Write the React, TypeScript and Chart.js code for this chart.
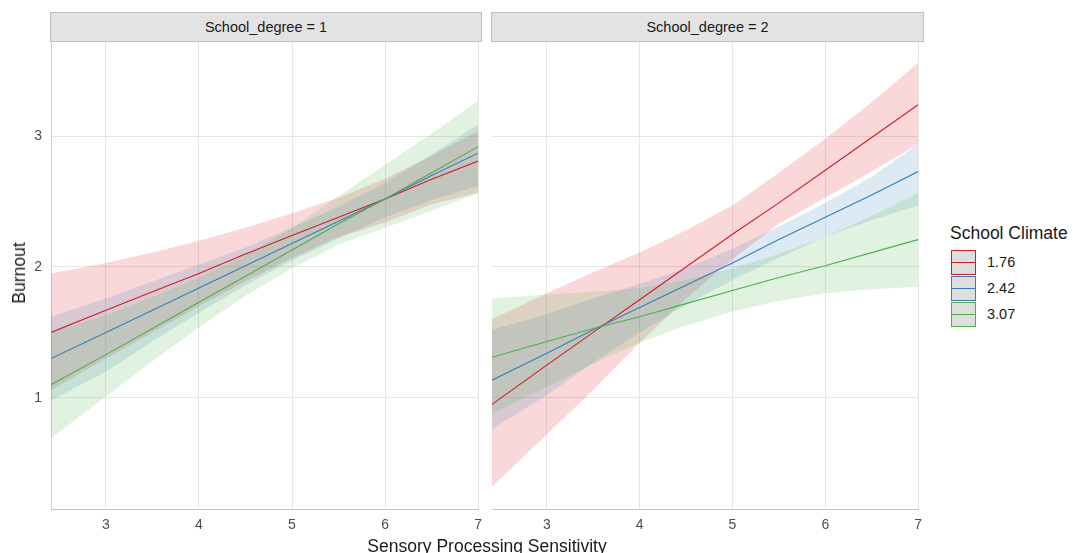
import React, { useEffect, useRef } from "react";
import { Chart, registerables } from "chart.js";

Chart.register(...registerables);

const FONT = '"Liberation Sans", Arial, Helvetica, sans-serif';

// x values (Sensory Processing Sensitivity) at which curves are read
const sps = [2.41, 3, 3.5, 4, 4.5, 5, 5.5, 6, 6.5, 7];
const xTicks = [3, 4, 5, 6, 7];
const yTicks = [1, 2, 3];
const climateLevels = ["1.76", "2.42", "3.07"];
const panelTitles = ["School_degree = 1", "School_degree = 2"];
const lineColors = ["#D31C22", "#377EB8", "#4DAF4A"];
const bandColors = ["rgba(228,26,28,0.17)", "rgba(55,126,184,0.17)", "rgba(77,175,74,0.17)"];

// School_degree = 1
const fit176_1 = [1.5, 1.67, 1.81, 1.95, 2.1, 2.24, 2.38, 2.52, 2.67, 2.81];
const low176_1 = [1.06, 1.3, 1.5, 1.7, 1.89, 2.07, 2.23, 2.34, 2.48, 2.565];
const high176_1 = [1.95, 2.03, 2.11, 2.2, 2.3, 2.41, 2.53, 2.675, 2.85, 3.04];
const fit242_1 = [1.3, 1.5, 1.67, 1.84, 2.01, 2.18, 2.35, 2.52, 2.7, 2.87];
const low242_1 = [0.98, 1.2, 1.43, 1.65, 1.86, 2.05, 2.22, 2.38, 2.51, 2.62];
const high242_1 = [1.62, 1.76, 1.89, 2.02, 2.15, 2.3, 2.46, 2.64, 2.86, 3.09];
const fit307_1 = [1.1, 1.33, 1.53, 1.73, 1.93, 2.13, 2.33, 2.52, 2.72, 2.92];
const low307_1 = [0.69, 1.01, 1.28, 1.54, 1.78, 1.99, 2.17, 2.3, 2.43, 2.565];
const high307_1 = [1.5, 1.63, 1.77, 1.92, 2.09, 2.3, 2.54, 2.78, 3.02, 3.27];

// School_degree = 2
const fit176_2 = [0.95, 1.25, 1.5, 1.75, 2.0, 2.25, 2.49, 2.74, 2.99, 3.24];
const low176_2 = [0.32, 0.72, 1.06, 1.42, 1.76, 2.06, 2.33, 2.53, 2.73, 2.94];
const high176_2 = [1.6, 1.8, 1.96, 2.11, 2.28, 2.47, 2.72, 2.98, 3.26, 3.56];
const fit242_2 = [1.135, 1.34, 1.52, 1.69, 1.86, 2.03, 2.21, 2.38, 2.55, 2.73];
const low242_2 = [0.76, 1.02, 1.27, 1.5, 1.71, 1.9, 2.07, 2.23, 2.36, 2.47];
const high242_2 = [1.52, 1.64, 1.76, 1.87, 1.99, 2.14, 2.31, 2.49, 2.69, 2.94];
const fit307_2 = [1.31, 1.43, 1.53, 1.62, 1.72, 1.82, 1.92, 2.01, 2.11, 2.21];
const low307_2 = [0.88, 1.08, 1.26, 1.42, 1.55, 1.66, 1.74, 1.8, 1.83, 1.85];
const high307_2 = [1.76, 1.79, 1.81, 1.84, 1.9, 1.99, 2.1, 2.23, 2.39, 2.565];

const panels = [
  {
    fits: [fit176_1, fit242_1, fit307_1],
    lows: [low176_1, low242_1, low307_1],
    highs: [high176_1, high242_1, high307_1],
  },
  {
    fits: [fit176_2, fit242_2, fit307_2],
    lows: [low176_2, low242_2, low307_2],
    highs: [high176_2, high242_2, high307_2],
  },
];

const X_MIN = 2.41;
const X_MAX = 7;
const Y_MIN = 0.15;
const Y_MAX = 3.72;

function pts(vals: number[]) {
  return sps.map((x, k) => ({ x, y: vals[k] }));
}

function buildDatasets(p: any) {
  const ds: any[] = [];
  for (let i = 0; i < 3; i++) {
    ds.push({
      data: pts(p.lows[i]),
      borderWidth: 0,
      borderColor: "rgba(0,0,0,0)",
      pointRadius: 0,
      fill: false,
      order: 10 - i,
    });
    ds.push({
      data: pts(p.highs[i]),
      borderWidth: 0,
      borderColor: "rgba(0,0,0,0)",
      backgroundColor: bandColors[i],
      pointRadius: 0,
      fill: "-1",
      order: 10 - i,
    });
  }
  for (let i = 0; i < 3; i++) {
    ds.push({
      data: pts(p.fits[i]),
      borderWidth: 1.1,
      borderColor: lineColors[i],
      pointRadius: 0,
      fill: false,
      order: 3 - i,
    });
  }
  return ds;
}

function PanelChart({ idx, left, width, padLeft, padRight, yWidth, showY }: any) {
  const ref = useRef<HTMLCanvasElement | null>(null);
  useEffect(() => {
    if (!ref.current) return;
    const chart = new Chart(ref.current, {
      type: "line",
      data: { datasets: buildDatasets(panels[idx]) },
      options: {
        animation: false,
        responsive: false,
        maintainAspectRatio: false,
        layout: { padding: { left: padLeft, right: padRight, top: 42, bottom: 0 } },
        plugins: { legend: { display: false }, tooltip: { enabled: false } },
        elements: { line: { tension: 0 } },
        scales: {
          x: {
            type: "linear",
            min: X_MIN,
            max: X_MAX,
            afterBuildTicks: (s: any) => {
              s.ticks = xTicks.map((v) => ({ value: v }));
            },
            afterFit: (s: any) => {
              s.height = 44;
            },
            grid: { color: "#E6E6E6", lineWidth: 1, drawTicks: false },
            border: { display: true, color: "#C4C4C4", width: 1 },
            ticks: {
              padding: 8,
              color: "#4D4D4D",
              font: { family: FONT, size: 14 },
              callback: (v: any) => String(v),
            },
          },
          y: {
            type: "linear",
            min: Y_MIN,
            max: Y_MAX,
            afterBuildTicks: (s: any) => {
              s.ticks = yTicks.map((v) => ({ value: v }));
            },
            afterFit: (s: any) => {
              s.width = yWidth;
            },
            grid: { color: "#E6E6E6", lineWidth: 1, drawTicks: false },
            border: { display: showY, color: "#D0D0D0", width: 1 },
            ticks: {
              display: showY,
              padding: 9,
              color: "#4D4D4D",
              font: { family: FONT, size: 14 },
              callback: (v: any) => String(v),
            },
          },
        },
      },
    });
    return () => chart.destroy();
  }, []);
  return (
    <canvas
      ref={ref}
      width={width}
      height={553}
      style={{ position: "absolute", left, top: 0, width, height: 553 }}
    />
  );
}

export default function App() {
  const strips = [
    { left: 50, width: 432 },
    { left: 491, width: 433 },
  ];
  const keyTops = [250, 276, 302];
  return (
    <div
      style={{
        position: "fixed",
        left: 0,
        top: 0,
        width: 1073,
        height: 553,
        background: "#FFFFFF",
        overflow: "hidden",
        fontFamily: FONT,
      }}
    >
      <PanelChart idx={0} left={0} width={490} padLeft={0} padRight={8} yWidth={51} showY={true} />
      <PanelChart idx={1} left={490} width={440} padLeft={2} padRight={6} yWidth={0} showY={false} />

      {strips.map((s, i) => (
        <div
          key={i}
          style={{
            position: "absolute",
            left: s.left,
            top: 12,
            width: s.width,
            height: 30,
            boxSizing: "border-box",
            background: "#E3E3E3",
            border: "1px solid #BDBDBD",
            color: "#1A1A1A",
            fontSize: 14.5,
            lineHeight: "28px",
            textAlign: "center",
          }}
        >
          {panelTitles[i]}
        </div>
      ))}

      <div
        style={{
          position: "absolute",
          left: 19,
          top: 273,
          transform: "translate(-50%, -50%) rotate(-90deg)",
          fontSize: 17.5,
          lineHeight: "20px",
          whiteSpace: "nowrap",
          color: "#1A1A1A",
        }}
      >
        Burnout
      </div>

      <div
        style={{
          position: "absolute",
          left: 487,
          top: 536,
          transform: "translateX(-50%)",
          fontSize: 17.5,
          lineHeight: "20px",
          whiteSpace: "nowrap",
          color: "#1A1A1A",
        }}
      >
        Sensory Processing Sensitivity
      </div>

      <div
        style={{
          position: "absolute",
          left: 950,
          top: 223,
          fontSize: 17.5,
          lineHeight: "20px",
          whiteSpace: "nowrap",
          color: "#1A1A1A",
        }}
      >
        School Climate
      </div>

      {climateLevels.map((lab, i) => (
        <React.Fragment key={lab}>
          <div
            style={{
              position: "absolute",
              left: 951,
              top: keyTops[i],
              width: 25,
              height: 25,
              boxSizing: "border-box",
              background: "#DEDEDE",
              border: `1.5px solid ${lineColors[i]}`,
            }}
          >
            <div
              style={{
                position: "absolute",
                left: 0,
                right: 0,
                top: 10.5,
                height: 1.2,
                background: lineColors[i],
              }}
            />
          </div>
          <div
            style={{
              position: "absolute",
              left: 987,
              top: keyTops[i] + 3,
              fontSize: 14.5,
              lineHeight: "19px",
              color: "#1A1A1A",
            }}
          >
            {lab}
          </div>
        </React.Fragment>
      ))}
    </div>
  );
}
